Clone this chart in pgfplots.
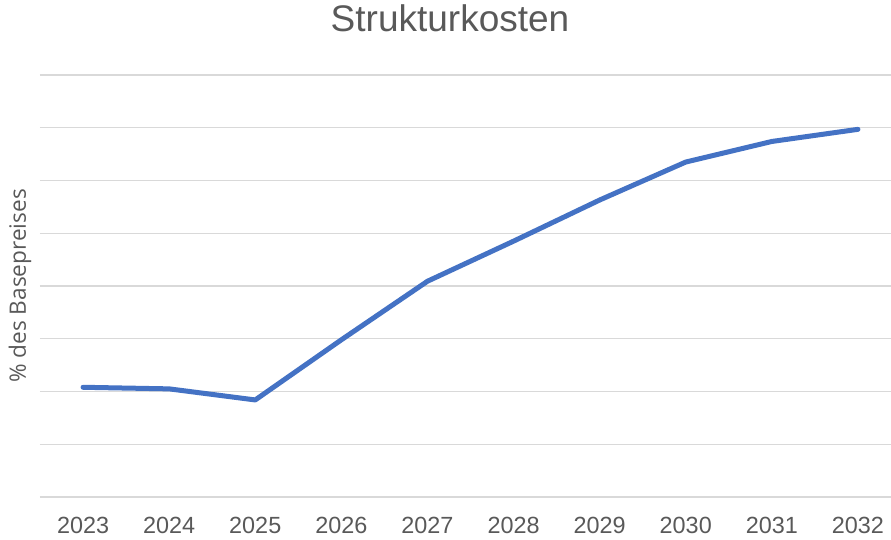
\documentclass[border=0pt]{standalone}
\usepackage{fontspec}
\setmainfont{Liberation Sans}
\newfontfamily\labelfont{Open Sans}
\usepackage{pgfplots}
\pgfplotsset{compat=1.18}
\definecolor{txtgray}{HTML}{595959}
\definecolor{gridgray}{HTML}{D9D9D9}
\definecolor{lineblue}{HTML}{4472C4}
\begin{document}
\begin{tikzpicture}
\path[use as bounding box] (-40pt,-42pt) rectangle (851pt,497pt);
\begin{axis}[
  at={(0pt,0pt)}, anchor=south west,
  scale only axis, width=851pt, height=422pt,
  xmin=-0.5, xmax=9.384, ymin=0, ymax=8,
  xtick={0,...,9},
  xticklabels={2023,2024,2025,2026,2027,2028,2029,2030,2031,2032},
  ytick={0,...,8}, yticklabels={},
  ymajorgrids, grid style={gridgray, line width=1.2pt},
  axis line style={draw=none},
  major tick length=0pt,
  /pgf/number format/assume math mode=true,
  xticklabel style={font=\fontsize{23.4}{28}\selectfont, text=txtgray, yshift=-17pt},
  title={Strukturkosten},
  title style={font=\fontsize{37}{44}\selectfont, text=txtgray, at={(axis description cs:0.5,1)}, anchor=base, xshift=-15.5pt, yshift=38pt},
  ylabel={\% des Basepreises},
  ylabel style={font=\labelfont\fontsize{22.6}{27}\selectfont, text=txtgray, at={(axis description cs:0,0.5)}, anchor=center, yshift=20pt},
  clip=false,
]
\addplot[lineblue, line width=5pt, line cap=round, line join=round] coordinates {
  (0,2.08) (1,2.05) (2,1.84) (3,2.98) (4,4.09) (5,4.85) (6,5.63) (7,6.35) (8,6.74) (9,6.97)
};
\end{axis}
\end{tikzpicture}
\end{document}
